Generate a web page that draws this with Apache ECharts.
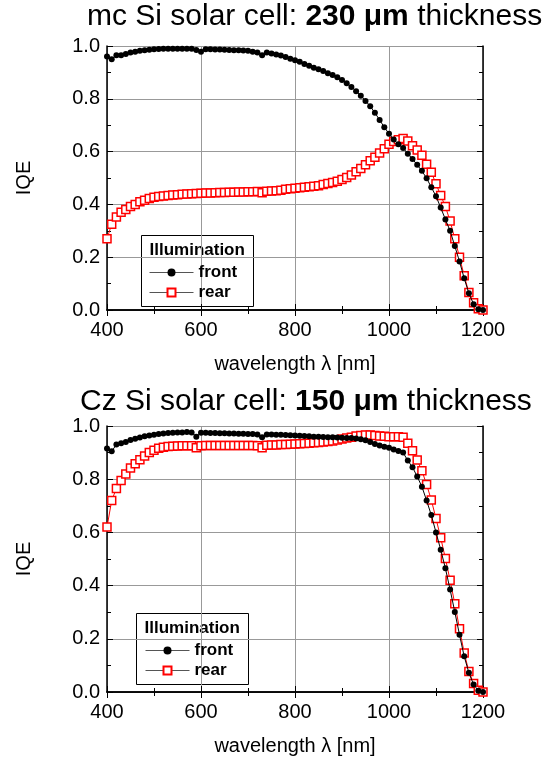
<!DOCTYPE html>
<html>
<head>
<meta charset="utf-8">
<title>IQE</title>
<script src="https://cdn.jsdelivr.net/npm/echarts@6/dist/echarts.min.js"></script>
<style>
	html, body { margin: 0; padding: 0; background: #fff; }
	#chart { width: 551px; height: 757px; }
</style>
</head>
<body>
<div id="chart"></div>
<script>
	// wavelength grid, 10 nm steps
	var wavelength = [];
	for (var w = 400; w <= 1200; w += 10) wavelength.push(w);

	// mc Si, 230 um
	var mcFront = [0.96, 0.95, 0.965, 0.965, 0.97, 0.975, 0.978, 0.982, 0.984, 0.986,
		0.988, 0.989, 0.99, 0.99, 0.99, 0.99, 0.99, 0.99, 0.99, 0.985,
		0.978, 0.988, 0.988, 0.987, 0.987, 0.986, 0.985, 0.984, 0.984, 0.983,
		0.982, 0.978, 0.975, 0.965, 0.975, 0.972, 0.968, 0.964, 0.958, 0.952,
		0.946, 0.94, 0.932, 0.925, 0.918, 0.912, 0.905, 0.897, 0.89, 0.882,
		0.871, 0.859, 0.845, 0.829, 0.812, 0.792, 0.772, 0.747, 0.72, 0.692,
		0.668, 0.646, 0.628, 0.614, 0.592, 0.572, 0.55, 0.527, 0.499, 0.465,
		0.431, 0.388, 0.343, 0.3, 0.242, 0.184, 0.12, 0.063, 0.022, 0.003, 0.0];
	var mcRear = [0.27, 0.325, 0.352, 0.37, 0.381, 0.392, 0.40, 0.41, 0.416, 0.422,
		0.427, 0.43, 0.432, 0.434, 0.436, 0.437, 0.438, 0.439, 0.44, 0.441,
		0.442, 0.443, 0.443, 0.444, 0.445, 0.445, 0.446, 0.446, 0.447, 0.447,
		0.448, 0.448, 0.449, 0.444, 0.45, 0.451, 0.452, 0.454, 0.457, 0.459,
		0.461, 0.463, 0.465, 0.467, 0.469, 0.471, 0.475, 0.479, 0.483, 0.488,
		0.494, 0.502, 0.511, 0.524, 0.536, 0.55, 0.565, 0.579, 0.595, 0.611,
		0.628, 0.638, 0.645, 0.65, 0.64, 0.622, 0.606, 0.586, 0.552, 0.522,
		0.478, 0.434, 0.392, 0.337, 0.27, 0.2, 0.13, 0.066, 0.027, 0.005, 0.0];

	// Cz Si, 150 um
	var czFront = [0.915, 0.905, 0.93, 0.935, 0.94, 0.947, 0.952, 0.957, 0.961, 0.964,
		0.967, 0.97, 0.972, 0.974, 0.975, 0.976, 0.976, 0.977, 0.976, 0.96,
		0.975, 0.975, 0.974, 0.974, 0.973, 0.973, 0.972, 0.972, 0.971, 0.971,
		0.97, 0.97, 0.968, 0.958, 0.968, 0.968, 0.967, 0.967, 0.966, 0.965,
		0.964, 0.963, 0.962, 0.961, 0.96, 0.96, 0.959, 0.958, 0.958, 0.957,
		0.956, 0.955, 0.955, 0.953, 0.95, 0.946, 0.94, 0.932, 0.927, 0.922,
		0.918, 0.912, 0.906, 0.9, 0.87, 0.845, 0.81, 0.772, 0.72, 0.665,
		0.6, 0.535, 0.465, 0.385, 0.301, 0.215, 0.134, 0.072, 0.028, 0.005, 0.0];
	var czRear = [0.62, 0.72, 0.765, 0.795, 0.82, 0.842, 0.858, 0.873, 0.887, 0.9,
		0.909, 0.916, 0.92, 0.923, 0.924, 0.925, 0.926, 0.926, 0.926, 0.918,
		0.926, 0.927, 0.927, 0.927, 0.927, 0.927, 0.927, 0.927, 0.927, 0.927,
		0.927, 0.927, 0.926, 0.918, 0.928, 0.929, 0.929, 0.93, 0.93, 0.931,
		0.932, 0.933, 0.934, 0.935, 0.937, 0.938, 0.94, 0.942, 0.944, 0.947,
		0.951, 0.955, 0.958, 0.962, 0.964, 0.966, 0.966, 0.964, 0.962, 0.961,
		0.96, 0.96, 0.96, 0.958, 0.935, 0.907, 0.872, 0.832, 0.78, 0.722,
		0.652, 0.58, 0.502, 0.42, 0.332, 0.238, 0.147, 0.077, 0.032, 0.007, 0.0];

	var FONT = 'Liberation Sans, Arial, sans-serif';

	function pairs(ys) {
		var out = [];
		for (var i = 0; i < ys.length; i++) out.push([wavelength[i], ys[i]]);
		return out;
	}

	// main x axis (bottom) + mirror (top)
	function xAxes(gi) {
		return [{
			gridIndex: gi, type: 'value', min: 400, max: 1200, interval: 200,
			name: 'wavelength λ [nm]', nameLocation: 'middle', nameGap: 44,
			nameTextStyle: { fontFamily: FONT, fontSize: 20, color: '#000' },
			axisLine: { lineStyle: { color: '#000', width: 1.5 } },
			axisTick: { inside: true, length: 6, lineStyle: { color: '#000' } },
			minorTick: { show: true, splitNumber: 2, length: 4, lineStyle: { color: '#000' } },
			axisLabel: { fontFamily: FONT, fontSize: 20, color: '#000', margin: 10,
				formatter: function(v) { return String(v); } },
			splitLine: { show: true, lineStyle: { color: '#999', width: 1 } }
		}, {
			gridIndex: gi, type: 'value', min: 400, max: 1200, interval: 200, position: 'top',
			axisLine: { show: true, lineStyle: { color: '#000', width: 1.5 } },
			axisTick: { show: true, inside: true, length: 6, lineStyle: { color: '#000' } },
			minorTick: { show: true, splitNumber: 2, length: 4, lineStyle: { color: '#000' } },
			axisLabel: { show: false },
			splitLine: { show: false }
		}];
	}

	function yAxes(gi) {
		return [{
			gridIndex: gi, type: 'value', min: 0, max: 1, interval: 0.2,
			name: 'IQE', nameLocation: 'middle', nameGap: 73, nameRotate: 90,
			nameTextStyle: { fontFamily: FONT, fontSize: 20, color: '#000' },
			axisLine: { show: true, lineStyle: { color: '#000', width: 1.5 } },
			axisTick: { show: true, inside: true, length: 6, lineStyle: { color: '#000' } },
			minorTick: { show: true, splitNumber: 2, length: 4, lineStyle: { color: '#000' } },
			axisLabel: { fontFamily: FONT, fontSize: 20, color: '#000', margin: 7,
				formatter: function(v) { return v.toFixed(1); } },
			splitLine: { show: true, lineStyle: { color: '#999', width: 1 } }
		}, {
			gridIndex: gi, type: 'value', min: 0, max: 1, interval: 0.2, position: 'right',
			axisLine: { show: true, lineStyle: { color: '#000', width: 1.5 } },
			axisTick: { show: true, inside: true, length: 6, lineStyle: { color: '#000' } },
			minorTick: { show: true, splitNumber: 2, length: 4, lineStyle: { color: '#000' } },
			axisLabel: { show: false },
			splitLine: { show: false }
		}];
	}

	function rearSeries(ys, xi, yi) {
		return {
			name: 'rear', type: 'line', xAxisIndex: xi, yAxisIndex: yi,
			data: pairs(ys), symbol: 'rect', symbolSize: 8, showSymbol: true,
			lineStyle: { color: '#ff0000', width: 1 },
			itemStyle: { color: '#fff', borderColor: '#ff0000', borderWidth: 1.5 },
			emphasis: { disabled: true }, animation: false, z: 2
		};
	}

	function frontSeries(ys, xi, yi) {
		return {
			name: 'front', type: 'line', xAxisIndex: xi, yAxisIndex: yi,
			data: pairs(ys), symbol: 'circle', symbolSize: 6, showSymbol: true,
			lineStyle: { color: '#000', width: 1 },
			itemStyle: { color: '#000' },
			emphasis: { disabled: true }, animation: false, z: 3
		};
	}

	var titleRich = {
		a: { fontFamily: FONT, fontSize: 30, fontWeight: 'normal', color: '#000' },
		b: { fontFamily: FONT, fontSize: 30, fontWeight: 'bold', color: '#000' }
	};

	function legendBox(left, top) {
		return {
			type: 'group', left: left, top: top,
			children: [{
				type: 'rect', shape: { x: 0, y: 0, width: 112, height: 71 },
				style: { fill: '#fff', stroke: '#000', lineWidth: 1 }
			}, {
				type: 'text', x: 8, y: 6,
				style: { text: 'Illumination', fontFamily: FONT, fontSize: 17, fontWeight: 'bold', fill: '#000' }
			}]
		};
	}

	function legendOpt(left, top) {
		return {
			left: left, top: top, orient: 'vertical', itemGap: 3, padding: 0,
			itemWidth: 44, itemHeight: 10,
			data: ['front', 'rear'], selectedMode: false,
			lineStyle: { color: '#555', width: 1 },
			textStyle: { fontFamily: FONT, fontSize: 17, fontWeight: 'bold', color: '#000' }
		};
	}

	var chart = echarts.init(document.getElementById('chart'));
	chart.setOption({
		backgroundColor: '#fff',
		animation: false,
		title: [{
			text: '{a|mc Si solar cell: }{b|230 μm}{a| thickness}',
			left: 87, top: 2, padding: 0,
			textStyle: { fontWeight: 'normal', rich: titleRich }
		}, {
			text: '{a|Cz Si solar cell: }{b|150 μm}{a| thickness}',
			left: 80, top: 387, padding: 0,
			textStyle: { fontWeight: 'normal', rich: titleRich }
		}],
		grid: [
			{ left: 107, top: 46, width: 376, height: 264 },
			{ left: 107, top: 426, width: 376, height: 266 }
		],
		xAxis: xAxes(0).concat(xAxes(1)),
		yAxis: yAxes(0).concat(yAxes(1)),
		legend: [legendOpt(149, 264), legendOpt(145, 642)],
		graphic: [legendBox(141, 235), legendBox(136, 613)],
		series: [
			rearSeries(mcRear, 0, 0),
			frontSeries(mcFront, 0, 0),
			rearSeries(czRear, 2, 2),
			frontSeries(czFront, 2, 2)
		]
	});
</script>
</body>
</html>
